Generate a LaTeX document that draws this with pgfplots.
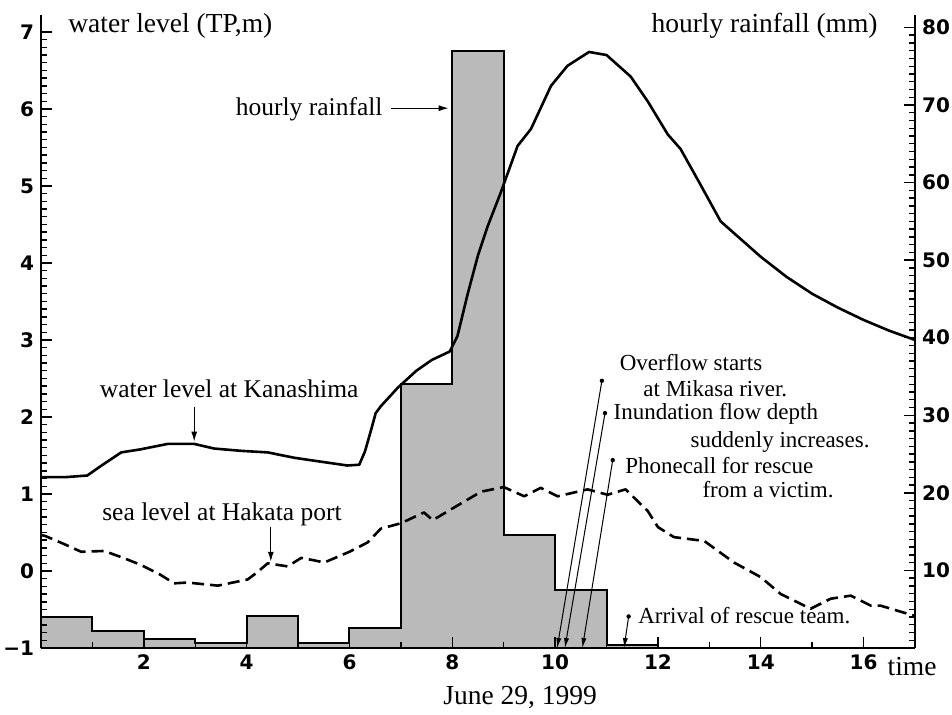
\documentclass[border=0pt]{standalone}
\usepackage{fontspec}
\setmainfont{Liberation Serif}
\newfontfamily\tickfont{DejaVu Sans}
\usepackage{pgfplots}
\pgfplotsset{compat=1.18}
\usetikzlibrary{arrows.meta}

\begin{document}
\begin{tikzpicture}
\pgfplotsset{
  common/.style={scale only axis, width=437pt, height=316.5pt, xmin=0, xmax=17,
    tick align=inside, major tick length=5.5pt, minor tick length=3pt,
    tick style={black, line width=0.7pt},
    axis line style={-, line width=1pt},
    tick label style={font=\tickfont\bfseries\fontsize{10}{11}\selectfont},
  }
}
% ---------------- rainfall (right axis) ----------------
\begin{axis}[common, ymin=0, ymax=81.6, hide x axis,
  axis y line*=right, ytick pos=right,
  ytick={0,10,...,80}, yticklabels={,10,20,30,40,50,60,70,80},
  minor y tick num=9]
\addplot[const plot, fill=black!27, draw=black, line width=1pt]
  coordinates {(0,4.0) (1,2.2) (2,1.1) (3,0.6) (4,4.1) (5,0.6) (6,2.6)
               (7,34) (8,77) (9,14.6) (10,7.5) (11,0.4) (12,0.4)} \closedcycle;
\end{axis}
% ---------------- water levels (left axis) ----------------
\begin{axis}[common, ymin=-1, ymax=7.22,
  axis x line*=bottom, axis y line*=left, xtick pos=left, ytick pos=left,
  xtick={2,4,...,16}, xticklabels={2,4,6,8,10,12,14,16},
  minor xtick={1,3,...,17},
  ytick={-1,0,...,7}, yticklabels={−1,0,1,2,3,4,5,6,7},
  minor y tick num=9, clip=false]
\coordinate (SW) at (rel axis cs:0,0);
\coordinate (NE) at (rel axis cs:1,1);
% water level at Kanashima
\addplot[black, line width=1.3pt, line join=round] coordinates {
 (0,1.22) (0.5,1.22) (0.9,1.24) (1.2,1.38) (1.56,1.54) (1.94,1.58) (2.46,1.65)
 (2.98,1.65) (3.37,1.59) (3.9,1.56) (4.41,1.54) (4.93,1.47) (5.44,1.42)
 (5.96,1.37) (6.19,1.38) (6.3,1.55) (6.42,1.83) (6.51,2.05) (6.61,2.14)
 (6.94,2.38) (7.3,2.6) (7.6,2.74) (7.95,2.85) (8.1,3.05) (8.3,3.6) (8.5,4.1)
 (8.69,4.48) (8.94,4.91) (9.27,5.52) (9.53,5.74) (9.92,6.30) (10.24,6.56)
 (10.66,6.74) (11.0,6.70) (11.47,6.42) (11.8,6.1) (12.19,5.67) (12.44,5.48)
 (12.8,5.05) (13.22,4.54) (13.61,4.31) (14.0,4.08) (14.5,3.82) (15.0,3.6)
 (15.5,3.42) (16.0,3.26) (16.5,3.12) (17.0,3.0)};
% sea level at Hakata port
\addplot[black, line width=1.3pt, dash pattern=on 6pt off 3pt, line join=round] coordinates {
 (0,0.47) (0.1,0.45) (0.45,0.35) (0.78,0.25) (1.23,0.26) (1.6,0.17) (1.94,0.08)
 (2.3,-0.04) (2.59,-0.16) (2.85,-0.15) (3.44,-0.19) (4.02,-0.11) (4.2,-0.02)
 (4.41,0.10) (4.6,0.08) (4.80,0.06) (5.06,0.17) (5.3,0.14) (5.51,0.11)
 (6.0,0.25) (6.35,0.37) (6.61,0.55) (7.0,0.62) (7.45,0.76) (7.62,0.66)
 (8.1,0.85) (8.56,1.03) (9.0,1.09) (9.4,0.97) (9.72,1.08) (10.05,0.97)
 (10.63,1.06) (11.02,0.99) (11.37,1.06) (11.8,0.78) (12.0,0.57) (12.31,0.44)
 (12.9,0.39) (13.48,0.11) (14.0,-0.08) (14.39,-0.30) (14.97,-0.49)
 (15.36,-0.36) (15.75,-0.32) (16.14,-0.45) (16.33,-0.45) (16.98,-0.58)};
% axis titles
\node[anchor=base west, font=\fontsize{13.75}{15}\selectfont, inner sep=0pt] at (axis cs:0.525,6.99) {water level (TP,m)};
\node[anchor=base east, font=\fontsize{13.75}{15}\selectfont, inner sep=0pt] at (axis cs:16.28,6.99) {hourly rainfall (mm)};
\node[anchor=base, font=\fontsize{13.75}{15}\selectfont, inner sep=0pt] at (axis cs:9.32,-1.73) {June 29, 1999};
\node[anchor=base west, font=\fontsize{13.75}{15}\selectfont, inner sep=0pt] at (axis cs:16.46,-1.36) {time};
% labels with arrows
\node[anchor=base east, font=\fontsize{12.75}{14}\selectfont, inner sep=0pt] at (axis cs:6.65,5.92) {hourly rainfall};
\draw[-{Latex[length=5pt,width=3pt]}, line width=0.6pt] (axis cs:6.81,6.01) -- (axis cs:7.93,6.01);
\node[anchor=base, font=\fontsize{12.75}{14}\selectfont, inner sep=0pt] at (axis cs:3.66,2.25) {water level at Kanashima};
\draw[-{Latex[length=5pt,width=3pt]}, line width=0.6pt] (axis cs:2.98,2.13) -- (axis cs:2.98,1.68);
\node[anchor=base, font=\fontsize{12.75}{14}\selectfont, inner sep=0pt] at (axis cs:3.52,0.65) {sea level at Hakata port};
\draw[-{Latex[length=5pt,width=3pt]}, line width=0.6pt] (axis cs:4.47,0.57) -- (axis cs:4.47,0.12);
% event annotations
\begin{scope}[font=\fontsize{11.5}{13}\selectfont]
\node[anchor=base west, inner sep=0pt] at (axis cs:11.25,2.61) {Overflow starts};
\node[anchor=base west, inner sep=0pt] at (axis cs:11.71,2.27) {at Mikasa river.};
\node[anchor=base west, inner sep=0pt] at (axis cs:11.13,1.97) {Inundation flow depth};
\node[anchor=base west, inner sep=0pt] at (axis cs:12.63,1.60) {suddenly increases.};
\node[anchor=base west, inner sep=0pt] at (axis cs:11.36,1.26) {Phonecall for rescue};
\node[anchor=base west, inner sep=0pt] at (axis cs:12.86,0.95) {from a victim.};
\node[anchor=base west, inner sep=0pt] at (axis cs:11.61,-0.68) {Arrival of rescue team.};
\end{scope}
\draw[-{Latex[length=5pt,width=2.6pt]}, line width=0.5pt] (axis cs:10.91,2.47) -- (axis cs:10.04,-1);
\draw[-{Latex[length=5pt,width=2.6pt]}, line width=0.5pt] (axis cs:10.97,2.05) -- (axis cs:10.19,-1);
\draw[-{Latex[length=5pt,width=2.6pt]}, line width=0.5pt] (axis cs:11.12,1.44) -- (axis cs:10.53,-1);
\draw[-{Latex[length=5pt,width=2.6pt]}, line width=0.5pt] (axis cs:11.43,-0.59) -- (axis cs:11.34,-1);
\fill (axis cs:10.91,2.47) circle (1.1pt);
\fill (axis cs:10.97,2.05) circle (1.1pt);
\fill (axis cs:11.12,1.44) circle (1.1pt);
\fill (axis cs:11.43,-0.59) circle (1.1pt);
\end{axis}
\pgfresetboundingbox
\path[use as bounding box] ([xshift=-20.5pt,yshift=-33pt]SW) rectangle ([xshift=18.5pt,yshift=7.5pt]NE);
\end{tikzpicture}
\end{document}
